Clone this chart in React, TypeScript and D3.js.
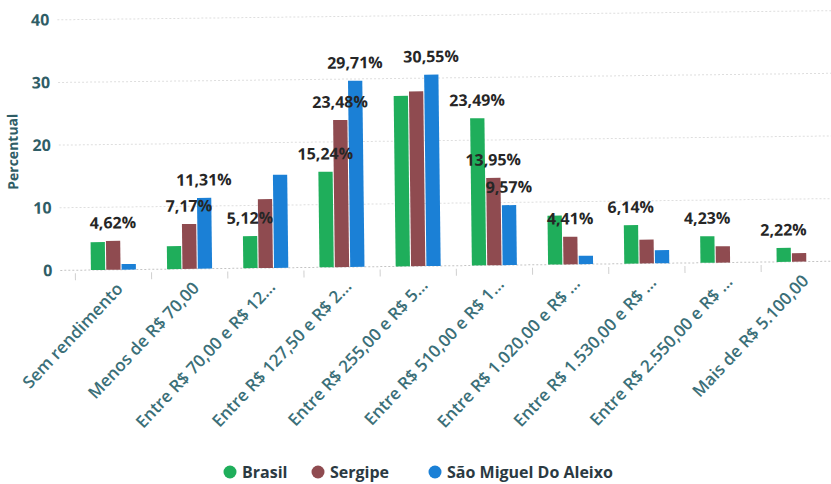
import React from "react";
import * as d3 from "d3";

const categories = [
  "Sem rendimento",
  "Menos de R$ 70,00",
  "Entre R$ 70,00 e R$ 12…",
  "Entre R$ 127,50 e R$ 2…",
  "Entre R$ 255,00 e R$ 5…",
  "Entre R$ 510,00 e R$ 1…",
  "Entre R$ 1.020,00 e R$ …",
  "Entre R$ 1.530,00 e R$ …",
  "Entre R$ 2.550,00 e R$ …",
  "Mais de R$ 5.100,00",
];
const seriesNames = ["Brasil", "Sergipe", "São Miguel Do Aleixo"];
const brasil = [4.45, 3.65, 5.12, 15.24, 27.2, 23.49, 7.8, 6.14, 4.23, 2.22];
const sergipe = [4.62, 7.17, 11.0, 23.48, 27.9, 13.95, 4.41, 3.8, 2.6, 1.35];
const saoMiguel = [0.9, 11.31, 14.85, 29.71, 30.55, 9.57, 1.35, 2.1, 0, 0];
// which bars carry a visible data label
const brasilLabel = [false, false, true, true, false, true, false, true, true, true];
const sergipeLabel = [true, true, false, true, false, true, true, false, false, false];
const saoMiguelLabel = [false, true, false, true, true, true, false, false, false, false];
const yTicks = [0, 10, 20, 30, 40];
const colors = ["#1fae5b", "#8f4b50", "#1b80d6"];

const W = 831;
const H = 484;

export default function App() {
  const values = [brasil, sergipe, saoMiguel];
  const labels = [brasilLabel, sergipeLabel, saoMiguelLabel];
  const x0 = d3.scaleBand<string>().domain(categories).range([75, 837]).padding(0);
  const groupW = 45;
  const x1 = d3.scaleBand<string>().domain(seriesNames).range([0, groupW]).paddingInner(0.07);
  const y = d3.scaleLinear().domain([0, 40]).range([266.2, 15.6]);
  const fmt = (v: number) => v.toFixed(2).replace(".", ",") + "%";
  const font = "'Open Sans', 'Noto Sans', sans-serif";
  const teal = "#2f5d66";

  return (
    <svg
      width={W}
      height={H}
      style={{ position: "absolute", left: 0, top: 0, background: "#fff" }}
      fontFamily={font}
    >
      <g transform="rotate(-0.68 415 242)">
        {yTicks.map((t) => (
          <g key={t}>
            <line
              x1={60}
              x2={840}
              y1={y(t)}
              y2={y(t)}
              stroke={t === 0 ? "#c4c4c4" : "#dedede"}
              strokeWidth={1}
              strokeDasharray="2,2"
            />
            <text
              x={52}
              y={y(t)}
              dy="0.35em"
              textAnchor="end"
              fontSize={16}
              fontWeight={700}
              fill={teal}
            >
              {t}
            </text>
          </g>
        ))}
        {categories.map((c) => (
          <line
            key={"t" + c}
            x1={x0(c)!}
            x2={x0(c)!}
            y1={y(0) + 3}
            y2={y(0) + 10}
            stroke="#d0d0d0"
            strokeWidth={1}
          />
        ))}
        <text
          transform={`translate(19,147) rotate(-90)`}
          textAnchor="middle"
          fontSize={14}
          fontWeight={700}
          fill={teal}
        >
          Percentual
        </text>
        {categories.map((c, i) => {
          const gx = x0(c)! + (x0.bandwidth() - groupW) / 2;
          return (
            <g key={c} transform={`translate(${gx},0)`}>
              {seriesNames.map((s, k) => {
                const v = values[k][i];
                if (v <= 0) return null;
                return (
                  <rect
                    key={s}
                    x={x1(s)!}
                    y={y(v)}
                    width={x1.bandwidth()}
                    height={y(0) - y(v)}
                    fill={colors[k]}
                  />
                );
              })}
            </g>
          );
        })}
        {categories.map((c, i) => {
          const gx = x0(c)! + (x0.bandwidth() - groupW) / 2;
          return seriesNames.map((s, k) => {
            if (!labels[k][i]) return null;
            const v = values[k][i];
            return (
              <text
                key={c + s}
                x={gx + x1(s)! + x1.bandwidth() / 2}
                y={y(v) - 18}
                dy="0.35em"
                textAnchor="middle"
                fontSize={16}
                fontWeight={700}
                fill="#262626"
              >
                {fmt(v)}
              </text>
            );
          });
        })}
        {categories.map((c) => (
          <text
            key={"l" + c}
            transform={`translate(${x0(c)! + x0.bandwidth() / 2 + 6},${y(0) + 16}) rotate(-46)`}
            textAnchor="end"
            dy="0.35em"
            fontSize={17}
            fontWeight={600}
            fill="#3b6f78"
          >
            {c}
          </text>
        ))}
      </g>
      {(() => {
        const items = [
          { x: 230, name: seriesNames[0] },
          { x: 318, name: seriesNames[1] },
          { x: 435, name: seriesNames[2] },
        ];
        return items.map((it, k) => (
          <g key={it.name}>
            <circle cx={it.x} cy={472} r={6.5} fill={colors[k]} />
            <text
              x={it.x + 12}
              y={472}
              dy="0.35em"
              fontSize={16}
              fontWeight={700}
              fill="#2b3a42"
            >
              {it.name}
            </text>
          </g>
        ));
      })()}
    </svg>
  );
}
